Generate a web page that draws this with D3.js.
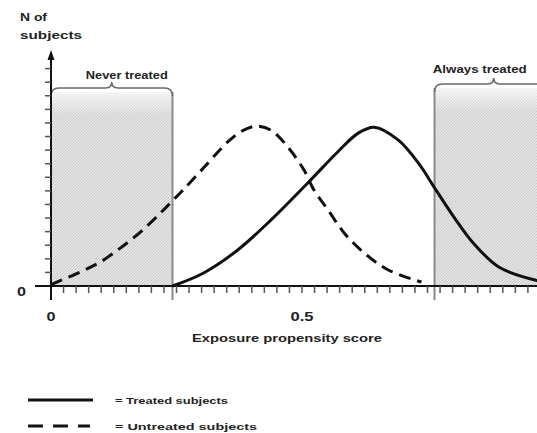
<!DOCTYPE html>
<html>
<head>
<meta charset="utf-8">
<script src="https://cdn.jsdelivr.net/npm/d3@7"></script>
<style>
  body { margin: 0; background: #fff; }
  text { font-family: "Liberation Sans", Arial, sans-serif; font-weight: bold; fill: #222; }
</style>
</head>
<body>
<div id="chart"></div>
<script>
// propensity score thresholds of the shaded regions
const regionNames = ['Never treated', 'Always treated'];
const regionStart = [0, 0.764];
const regionEnd = [0.242, 1.0];

// untreated subjects (dashed)
const untreatedX = [0, 0.058, 0.098, 0.138, 0.178, 0.218, 0.244, 0.264, 0.304, 0.352, 0.38, 0.408, 0.438, 0.472, 0.504, 0.524, 0.552, 0.584, 0.624, 0.672, 0.738];
const untreatedY = [0.1, 1.03, 1.76, 2.79, 3.97, 5.37, 6.35, 7.1, 8.7, 10.6, 11.4, 11.76, 11.47, 10.22, 8.53, 7.06, 5.59, 3.9, 2.43, 1.18, 0.29];

// treated subjects (solid)
const treatedX = [0.242, 0.304, 0.372, 0.438, 0.512, 0.572, 0.612, 0.644, 0.692, 0.732, 0.768, 0.804, 0.838, 0.892, 0.964, 0.99];
const treatedY = [0, 0.96, 2.65, 4.85, 7.6, 9.9, 11.25, 11.69, 10.74, 9.04, 7.0, 5.0, 3.3, 1.4, 0.44, 0.3];

const xTickLabels = [0, 0.5];
const legendLabels = ['= Treated subjects', '= Untreated subjects'];

const width = 537, height = 433;
const svg = d3.select('#chart').append('svg')
  .attr('width', width)
  .attr('height', height);

const x = d3.scaleLinear().domain([0, 1]).range([51, 553]);
const y = d3.scaleLinear().domain([0, 17]).range([286, 55]);

// the original lettering is wide, so stretch each label to its width
function label(sel, txt, size, len) {
  return sel.append('text')
    .attr('font-size', size)
    .attr('textLength', len)
    .attr('lengthAdjust', 'spacingAndGlyphs')
    .text(txt);
}

const defs = svg.append('defs');
const pat = defs.append('pattern')
  .attr('id', 'hatch')
  .attr('patternUnits', 'userSpaceOnUse')
  .attr('width', 3).attr('height', 3);
pat.append('rect').attr('width', 3).attr('height', 3).attr('fill', '#e4e4e4');
pat.append('path').attr('d', 'M0,3 L3,0').attr('stroke', '#c4c4c4').attr('stroke-width', 0.8);
const grad = defs.append('linearGradient').attr('id', 'fade').attr('x1', 0).attr('x2', 0).attr('y1', 0).attr('y2', 1);
grad.append('stop').attr('offset', '0').attr('stop-color', '#fff').attr('stop-opacity', 0.7);
grad.append('stop').attr('offset', '0.12').attr('stop-color', '#fff').attr('stop-opacity', 0);

const braceTop = [88, 84];
const labelY = [79, 73];
const labelW = [82, 94];
const labelShift = [15, -14];

regionNames.forEach((name, i) => {
  const x0 = x(regionStart[i]), x1 = x(regionEnd[i]);
  const top = braceTop[i] + 4;
  svg.append('rect')
    .attr('x', x0).attr('y', top)
    .attr('width', x1 - x0).attr('height', y(0) - top)
    .attr('fill', 'url(#hatch)');
  svg.append('rect')
    .attr('x', x0).attr('y', top)
    .attr('width', x1 - x0).attr('height', y(0) - top)
    .attr('fill', 'url(#fade)');
  // boundary lines
  [x0, x1].forEach(xx => {
    svg.append('line')
      .attr('x1', xx).attr('x2', xx)
      .attr('y1', top).attr('y2', 300)
      .attr('stroke', '#8a8a8a').attr('stroke-width', 2);
  });
  // curly brace
  const yb = braceTop[i], xc = (x0 + x1) / 2, yp = yb - 6;
  const d = `M${x0},${yb + 8} Q${x0},${yb} ${x0 + 8},${yb} L${xc - 6},${yb} Q${xc},${yb} ${xc},${yp} ` +
            `Q${xc},${yb} ${xc + 6},${yb} L${x1 - 8},${yb} Q${x1},${yb} ${x1},${yb + 8}`;
  svg.append('path').attr('d', d)
    .attr('fill', 'none').attr('stroke', '#6a6a6a').attr('stroke-width', 1.6);
  label(svg, name, 10.5, labelW[i])
    .attr('x', xc + labelShift[i] - labelW[i] / 2).attr('y', labelY[i]);
});

// x axis
svg.append('line')
  .attr('x1', 35).attr('x2', width)
  .attr('y1', y(0)).attr('y2', y(0))
  .attr('stroke', '#111').attr('stroke-width', 2);
const xTicks = d3.range(0, 1.0001, 0.025);
svg.append('g').selectAll('line').data(xTicks).enter().append('line')
  .attr('x1', d => x(d)).attr('x2', d => x(d))
  .attr('y1', y(0)).attr('y2', y(0) + 7)
  .attr('stroke', '#555').attr('stroke-width', 1.5);
svg.append('g').selectAll('text').data(xTickLabels).enter().append('text')
  .attr('x', d => x(d)).attr('y', 321)
  .attr('text-anchor', 'middle')
  .attr('font-size', 13)
  .attr('textLength', d => d === 0 ? 9 : 23)
  .attr('lengthAdjust', 'spacingAndGlyphs')
  .text(d => d);
label(svg, 'Exposure propensity score', 11, 190).attr('x', 192).attr('y', 342);

// y axis
svg.append('line')
  .attr('x1', x(0)).attr('x2', x(0))
  .attr('y1', 58).attr('y2', 300)
  .attr('stroke', '#111').attr('stroke-width', 2);
svg.append('path')
  .attr('d', `M${x(0) - 3.5},60 L${x(0)},50 L${x(0) + 3.5},60 Z`)
  .attr('fill', '#111');
const yTicks = d3.range(1, 17);
svg.append('g').selectAll('line').data(yTicks).enter().append('line')
  .attr('x1', x(0) - 6).attr('x2', x(0))
  .attr('y1', d => y(d)).attr('y2', d => y(d))
  .attr('stroke', '#555').attr('stroke-width', 1.5);
label(svg, '0', 13, 9).attr('x', 17).attr('y', 296);
label(svg, 'N of', 10.5, 27).attr('x', 20).attr('y', 21);
label(svg, 'subjects', 10.5, 62).attr('x', 20).attr('y', 39);

// curves
const line = d3.line()
  .x(d => x(d[0]))
  .y(d => y(d[1]))
  .curve(d3.curveCatmullRom.alpha(0.5));

svg.append('path')
  .datum(d3.zip(untreatedX, untreatedY))
  .attr('d', line)
  .attr('fill', 'none').attr('stroke', '#111')
  .attr('stroke-width', 3).attr('stroke-dasharray', '12,7');

svg.append('path')
  .datum(d3.zip(treatedX, treatedY))
  .attr('d', line)
  .attr('fill', 'none').attr('stroke', '#111')
  .attr('stroke-width', 3);

// legend
const legendW = [113, 142];
const legend = svg.append('g');
legendLabels.forEach((lab, i) => {
  const ly = 400 + i * 26;
  legend.append('line')
    .attr('x1', 28).attr('x2', i === 0 ? 93 : 90)
    .attr('y1', ly).attr('y2', ly)
    .attr('stroke', '#111').attr('stroke-width', 3)
    .attr('stroke-dasharray', i === 0 ? null : '15,10');
  label(legend, lab, 9.5, legendW[i]).attr('x', 115).attr('y', ly + 4);
});
</script>
</body>
</html>
